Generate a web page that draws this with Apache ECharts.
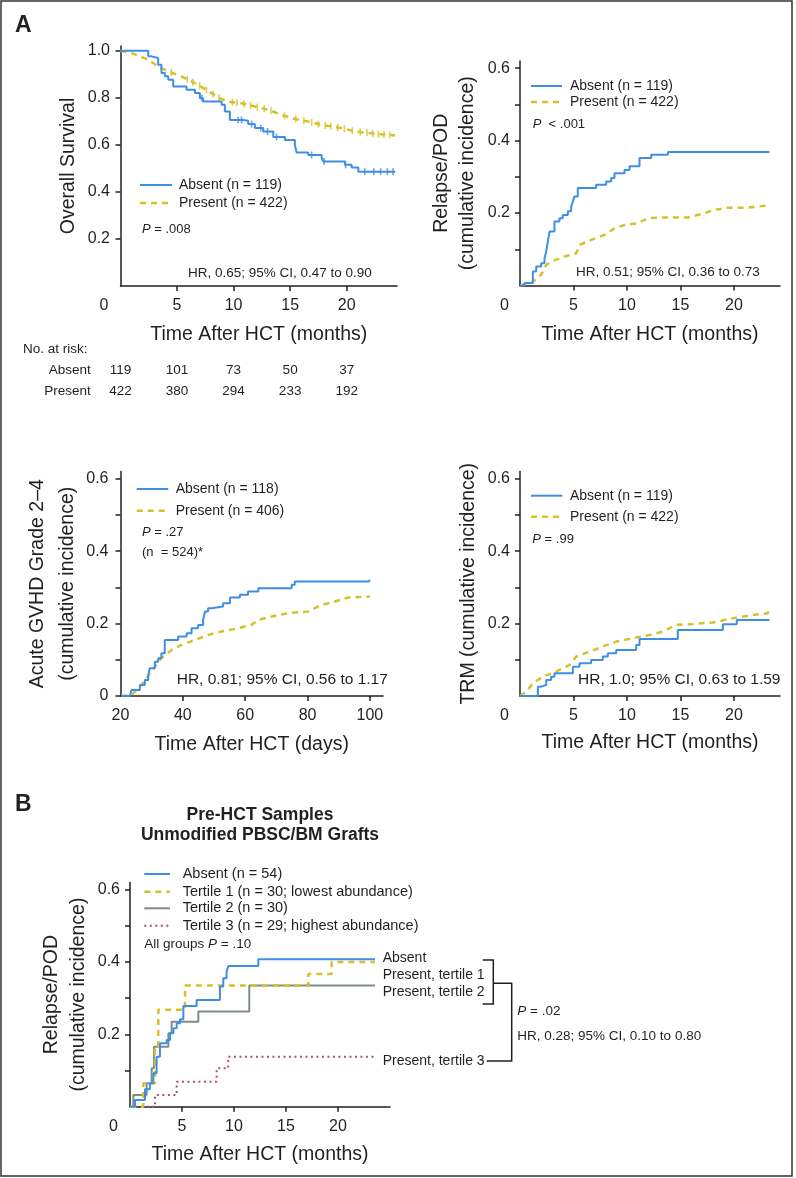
<!DOCTYPE html>
<html>
<head>
<meta charset="utf-8">
<script src="https://cdn.jsdelivr.net/npm/echarts@6.0.0/dist/echarts.min.js"></script>
<style>
  html, body { margin: 0; padding: 0; background: #fff; }
  #chart { width: 796px; height: 1178px; }
</style>
</head>
<body>
<div id="chart"></div>
<script>
const BLUE = '#3f8ee6', YELLOW = '#d6c12a', GRAY = '#7f8b8d', RED = '#a3566a', INK = '#231f20'
const FONT = '"Liberation Sans", Arial, Helvetica, sans-serif'

// ---- A: overall survival (months) ----
const osAbsent = [[0,1],[2.45,0.976],[2.74,0.969],[3.33,0.94],[3.62,0.905],[3.92,0.891],[4.22,0.877],[4.66,0.848],[5.84,0.834],[6.58,0.82],[7.02,0.798],[7.31,0.784],[8.94,0.77],[9.23,0.742],[9.67,0.706],[10.85,0.702],[11.29,0.688],[11.88,0.671],[12.62,0.657],[13.51,0.633],[14.54,0.621],[15.42,0.6],[15.57,0.567],[16.6,0.557],[17.79,0.543],[17.94,0.529],[19.85,0.515],[20.44,0.504],[21.03,0.486],[24.28,0.486]]
const osPresent = [[0,1],[0.97,0.99],[2.45,0.962],[3.33,0.933],[4.22,0.912],[5.39,0.891],[6.87,0.855],[8.05,0.82],[8.94,0.794],[9.53,0.784],[10.7,0.777],[11.88,0.763],[13.06,0.749],[14.25,0.728],[15.13,0.713],[16.6,0.699],[17.79,0.685],[19.55,0.671],[20.74,0.657],[22.5,0.647],[24.28,0.64]]
const osAbsentCensor = [7.2, 10.4, 10.7, 11.6, 12.4, 13.0, 13.8, 16.9, 18.0, 19.9, 21.6, 22.4, 23.0, 23.6, 24.1]
const osPresentCensor = [4.5, 5.9, 6.4, 7.0, 7.6, 8.2, 8.7, 9.9, 10.3, 10.9, 11.5, 12.1, 12.7, 13.3, 14.5, 15.5, 16.2, 16.9, 17.5, 18.1, 18.6, 19.2, 19.8, 20.5, 21.2, 21.8, 22.3, 22.8, 23.3, 23.8]

// ---- A: relapse / POD (months) ----
const relAbsent = [[0,0],[0.42,0.0066],[1.2,0.0387],[1.51,0.0525],[1.98,0.0617],[2.29,0.0755],[2.45,0.094],[2.6,0.1215],[2.76,0.149],[3.22,0.177],[3.69,0.186],[4.0,0.195],[4.47,0.205],[4.78,0.218],[4.94,0.232],[5.09,0.246],[5.4,0.269],[7.12,0.278],[8.05,0.287],[8.52,0.297],[8.83,0.31],[9.77,0.319],[10.23,0.329],[11.17,0.352],[12.26,0.361],[13.82,0.369],[23.32,0.369]]
const relPresent = [[0,0],[1.04,0.0066],[1.98,0.0296],[2.45,0.057],[2.91,0.066],[4.16,0.08],[5.25,0.089],[5.56,0.112],[6.65,0.126],[7.9,0.14],[8.83,0.158],[9.77,0.167],[11.01,0.172],[11.95,0.186],[13.19,0.188],[15.69,0.188],[16.93,0.197],[18.18,0.209],[19.42,0.215],[21.3,0.215],[23.16,0.221]]

// ---- A: acute GVHD grade 2-4 (days) ----
const gvhdAbsent = [[20.3,0],[23,0],[23.5,0.0166],[26.2,0.0304],[27.8,0.0443],[28.9,0.058],[29.4,0.0764],[31,0.0949],[32.1,0.1041],[33.1,0.1179],[34.2,0.1549],[38.5,0.1641],[41.2,0.1733],[42.8,0.1871],[44.9,0.1964],[46.5,0.2102],[47.1,0.2333],[48.1,0.2425],[49.2,0.2471],[52.9,0.2563],[55.1,0.272],[58.3,0.2794],[60.9,0.2886],[64.2,0.2978],[74.9,0.307],[75.9,0.3162],[99.6,0.3162],[100,0.3208]]
const gvhdPresent = [[20.3,0],[23.5,0.0018],[26.7,0.0304],[29.9,0.0673],[33.1,0.1041],[36.4,0.1272],[39.6,0.141],[43.9,0.1549],[48.1,0.1687],[52.4,0.1779],[57.7,0.1871],[62,0.1964],[64.2,0.2102],[68.5,0.2195],[73.8,0.2287],[80.2,0.2333],[84.5,0.2517],[88.8,0.2609],[93,0.272],[100,0.2748]]

// ---- A: TRM (months) ----
const trmAbsent = [[0,0],[1.67,0.0258],[1.98,0.0304],[2.45,0.0443],[2.91,0.0535],[3.22,0.0627],[4.94,0.0811],[5.56,0.0904],[6.65,0.0996],[7.74,0.1088],[8.21,0.118],[8.99,0.1272],[10.86,0.141],[11.17,0.1577],[14.75,0.1826],[18.96,0.1982],[20.26,0.2102],[23.32,0.2102]]
const trmPresent = [[0,0],[0.58,0.012],[1.2,0.035],[2.14,0.0535],[3.38,0.0673],[4.63,0.0857],[5.25,0.1088],[6.5,0.1226],[7.74,0.1364],[8.99,0.1503],[10.55,0.1595],[12.1,0.1687],[13.35,0.1779],[14.6,0.1964],[16.15,0.1991],[18.02,0.2028],[19.89,0.2148],[21.76,0.224],[23.16,0.2287],[23.32,0.2425]]

// ---- B: relapse by tertile (months) ----
const bAbsent = [[0,0],[0.48,0.0185],[1.44,0.048],[1.92,0.0646],[2.24,0.0923],[2.56,0.1384],[2.88,0.1753],[3.53,0.1845],[3.85,0.203],[4.17,0.2168],[4.49,0.2306],[4.81,0.2417],[5.13,0.2786],[6.41,0.2952],[8.65,0.3321],[8.97,0.3551],[9.29,0.3736],[9.46,0.3892],[12.34,0.4077],[23.56,0.4077]]
const bTertile1 = [[0,0],[1.28,0.0646],[2.4,0.166],[2.72,0.268],[5.29,0.335],[17.15,0.367],[19.39,0.4],[23.56,0.4]]
const bTertile2 = [[0,0],[0.32,0.0323],[1.6,0.0646],[2.08,0.1061],[2.3,0.166],[3.69,0.203],[4.0,0.2352],[6.57,0.263],[11.47,0.335],[23.56,0.335]]
const bTertile3 = [[0,0],[2.4,0.0323],[4.49,0.0692],[8.33,0.1061],[9.44,0.1384],[23.56,0.1384]]

// ---- number at risk ----
const riskTimes = [0, 5, 10, 15, 20]
const riskAbsent = [119, 101, 73, 50, 37]
const riskPresent = [422, 380, 294, 233, 192]

// axis tick / label values
const monthTicks = [5, 10, 15, 20]
const monthLabels = [0, 5, 10, 15, 20]
const dayTicks = [40, 60, 80, 100]
const dayLabels = [20, 40, 60, 80, 100]
const osTicks = [0.2, 0.4, 0.6, 0.8, 1.0]
const ciTicks = [0.1, 0.2, 0.3, 0.4, 0.5, 0.6]
const ciLabels = [0.2, 0.4, 0.6]

const stepAt = (curve, t) => { let v = curve[0][1]; for (const p of curve) if (p[0] <= t) v = p[1]; return v }
const lineAt = (curve, t) => {
  for (let i = 1; i < curve.length; i++) {
    const a = curve[i - 1], b = curve[i]
    if (t <= b[0]) return a[1] + (b[1] - a[1]) * (t - a[0]) / (b[0] - a[0])
  }
  return curve[curve.length - 1][1]
}

const chart = echarts.init(document.getElementById('chart'))

function xAx(gi, min, max, labels, ticks, name, gap, zeroPad) {
  return {
    type: 'value', gridIndex: gi, min, max,
    name, nameLocation: 'middle', nameGap: gap,
    nameTextStyle: { fontSize: 19.5, fontFamily: FONT, color: INK, lineHeight: 22 },
    axisLine: { onZero: false, lineStyle: { color: INK, width: 1.5 } },
    axisTick: { length: 5, lineStyle: { color: INK, width: 1.5 }, customValues: ticks },
    axisLabel: {
      customValues: labels, margin: 12, fontSize: 16, fontFamily: FONT, color: INK,
      formatter: v => (v === 0 && zeroPad ? '{z|0}' : String(v)),
      rich: { z: { fontSize: 16, fontFamily: FONT, color: INK, padding: [0, zeroPad || 0, 0, 0] } }
    },
    splitLine: { show: false }
  }
}

function yAx(gi, max, labels, ticks, name, gap, lh, margin) {
  return {
    type: 'value', gridIndex: gi, min: 0, max,
    name, nameLocation: 'middle', nameGap: gap,
    nameTextStyle: { fontSize: 19.5, fontFamily: FONT, color: INK, lineHeight: lh },
    axisLine: { onZero: false, lineStyle: { color: INK, width: 1.5 } },
    axisTick: { length: 5, lineStyle: { color: INK, width: 1.5 }, customValues: ticks },
    axisLabel: {
      customValues: labels, margin, fontSize: 16, fontFamily: FONT, color: INK,
      formatter: v => (v === 0 ? '0' : v.toFixed(1))
    },
    splitLine: { show: false }
  }
}

function curve(gi, data, color, width, dash, step) {
  return {
    type: 'line', xAxisIndex: gi, yAxisIndex: gi, data,
    step: step ? 'end' : false, symbol: 'none', silent: true, animation: false,
    lineStyle: { color, width, type: dash || 'solid', cap: 'butt' }
  }
}

function censor(gi, pts, color) {
  return {
    type: 'scatter', xAxisIndex: gi, yAxisIndex: gi, data: pts,
    symbol: 'rect', symbolSize: [1.6, 7], silent: true, animation: false,
    itemStyle: { color }
  }
}

const DASH = [6, 5]
const DOT = [2, 3.5]

chart.setOption({
  animation: false,
  grid: [
    { left: 120.5, top: 46, width: 276.5, height: 240 },
    { left: 520, top: 61, width: 260, height: 224.5 },
    { left: 120.5, top: 471.5, width: 262.5, height: 224.5 },
    { left: 520, top: 471.5, width: 260, height: 224.5 },
    { left: 130, top: 882.5, width: 260, height: 224.2 }
  ],
  xAxis: [
    xAx(0, 0, 24.45, monthLabels, monthTicks, 'Time After HCT (months)', 38, 33),
    xAx(1, 0, 24.3, monthLabels, monthTicks, 'Time After HCT (months)', 38, 31),
    xAx(2, 20, 104.2, dayLabels, dayTicks, 'Time After HCT (days)', 38, 0),
    xAx(3, 0, 24.3, monthLabels, monthTicks, 'Time After HCT (months)', 36, 31),
    xAx(4, 0, 25, monthLabels, monthTicks, 'Time After HCT (months)', 37, 33)
  ],
  yAxis: [
    yAx(0, 1.02, osTicks, osTicks, 'Overall Survival', 41, 22, 10.5),
    yAx(1, 0.62, ciLabels, ciTicks, 'Relapse/POD\n(cumulative incidence)', 39, 26, 10),
    yAx(2, 0.62, [0].concat(ciLabels), [0].concat(ciTicks), 'Acute GVHD Grade 2–4\n(cumulative incidence)', 31, 30, 12),
    yAx(3, 0.62, ciLabels, ciTicks, 'TRM (cumulative incidence)', 40, 22, 10),
    yAx(4, 0.62, ciLabels, ciTicks, 'Relapse/POD\n(cumulative incidence)', 38, 27, 10)
  ],
  series: [
    curve(0, osPresent, YELLOW, 2.5, DASH, false),
    curve(0, osAbsent, BLUE, 2, null, true),
    censor(0, osPresentCensor.map(t => [t, lineAt(osPresent, t)]), YELLOW),
    censor(0, osAbsentCensor.map(t => [t, stepAt(osAbsent, t)]), BLUE),
    curve(1, relPresent, YELLOW, 2.5, DASH, false),
    curve(1, relAbsent, BLUE, 2, null, true),
    curve(2, gvhdPresent, YELLOW, 2.5, DASH, false),
    curve(2, gvhdAbsent, BLUE, 2, null, true),
    curve(3, trmPresent, YELLOW, 2.5, DASH, false),
    curve(3, trmAbsent, BLUE, 2, null, true),
    curve(4, bTertile3, RED, 2, DOT, true),
    curve(4, bTertile2, GRAY, 2, null, true),
    curve(4, bTertile1, YELLOW, 2.5, DASH, true),
    curve(4, bAbsent, BLUE, 2, null, true)
  ]
})

// ---- annotations ----
function txt(x, y, text, size, opt) {
  opt = opt || {}
  return {
    type: 'text', x, y, silent: true,
    style: {
      text, fill: INK, fontSize: size, fontFamily: FONT,
      fontWeight: opt.bold ? 'bold' : 'normal',
      align: opt.align || 'left', verticalAlign: 'middle'
    }
  }
}
function ptxt(x, y, before, after, size) {
  const base = { fontSize: size, fontFamily: FONT, fill: INK }
  return {
    type: 'text', x, y, silent: true,
    style: {
      text: (before ? '{n|' + before + '}' : '') + '{i|P}{n|' + after + '}',
      verticalAlign: 'middle', align: 'left',
      rich: { n: base, i: Object.assign({ fontStyle: 'italic' }, base) }
    }
  }
}
function seg(x1, x2, y, color, width, dash) {
  return {
    type: 'line', silent: true,
    shape: { x1, y1: y, x2, y2: y },
    style: { stroke: color, lineWidth: width, lineDash: dash || null }
  }
}
function poly(points) {
  return { type: 'polyline', silent: true, shape: { points }, style: { stroke: INK, lineWidth: 1.5, fill: null } }
}

const g = []
g.push({ type: 'rect', silent: true, shape: { x: 1, y: 1, width: 791, height: 1175 }, style: { fill: null, stroke: '#333', lineWidth: 1.5 } })
g.push(txt(15, 26, 'A', 23, { bold: true }), txt(15, 805, 'B', 23, { bold: true }))

// A1 overall survival
g.push(seg(140, 172, 185, BLUE, 2), txt(179, 185, 'Absent (n = 119)', 14))
g.push(seg(140, 172, 203, YELLOW, 2.5, DASH), txt(179, 203, 'Present (n = 422)', 14))
g.push(ptxt(142, 229, '', ' = .008', 13))
g.push(txt(188, 273, 'HR, 0.65; 95% CI, 0.47 to 0.90', 13.5))

// number at risk
g.push(txt(23, 349, 'No. at risk:', 13.5))
g.push(txt(90.7, 370.7, 'Absent', 13.5, { align: 'right' }), txt(90.7, 391.7, 'Present', 13.5, { align: 'right' }))
riskTimes.forEach((t, i) => {
  const px = chart.convertToPixel({ xAxisIndex: 0 }, t)
  g.push(txt(px, 370.7, String(riskAbsent[i]), 13.5, { align: 'center' }))
  g.push(txt(px, 391.7, String(riskPresent[i]), 13.5, { align: 'center' }))
})

// A2 relapse
g.push(seg(531, 562, 86, BLUE, 2), txt(570, 86, 'Absent (n = 119)', 14))
g.push(seg(531, 562, 102, YELLOW, 2.5, DASH), txt(570, 102, 'Present (n = 422)', 14))
g.push(ptxt(532.7, 124, '', '  < .001', 13))
g.push(txt(576, 272.7, 'HR, 0.51; 95% CI, 0.36 to 0.73', 13.5))

// A3 GVHD
g.push(seg(136.7, 168.3, 489, BLUE, 2), txt(175.7, 489, 'Absent (n = 118)', 14))
g.push(seg(136.7, 168.3, 510.7, YELLOW, 2.5, DASH), txt(175.7, 510.7, 'Present (n = 406)', 14))
g.push(ptxt(142, 532, '', ' = .27', 13))
g.push(txt(142, 552, '(n  = 524)*', 13))
g.push(txt(176.7, 680, 'HR, 0.81; 95% CI, 0.56 to 1.17', 15.5))

// A4 TRM
g.push(seg(531, 562.3, 495.7, BLUE, 2), txt(570, 495.7, 'Absent (n = 119)', 14))
g.push(seg(531, 562.3, 516.7, YELLOW, 2.5, DASH), txt(570, 516.7, 'Present (n = 422)', 14))
g.push(ptxt(532.3, 539, '', ' = .99', 13))
g.push(txt(578, 680, 'HR, 1.0; 95% CI, 0.63 to 1.59', 15.5))

// B
g.push(txt(260, 815, 'Pre-HCT Samples', 17.5, { bold: true, align: 'center' }))
g.push(txt(260, 835, 'Unmodified PBSC/BM Grafts', 17.5, { bold: true, align: 'center' }))
g.push(seg(144.3, 170, 874, BLUE, 2), txt(182.7, 874, 'Absent (n = 54)', 14.5))
g.push(seg(144.3, 170, 891.7, YELLOW, 2.5, DASH), txt(182.7, 891.7, 'Tertile 1 (n = 30; lowest abundance)', 14.5))
g.push(seg(144.3, 170, 908.3, GRAY, 2), txt(182.7, 908.3, 'Tertile 2 (n = 30)', 14.5))
g.push(seg(144.3, 170, 925.7, RED, 2, DOT), txt(182.7, 925.7, 'Tertile 3 (n = 29; highest abundance)', 14.5))
g.push(ptxt(144.3, 944, 'All groups ', ' = .10', 13.5))
g.push(txt(382.7, 958.3, 'Absent', 14), txt(382.7, 975, 'Present, tertile 1', 14))
g.push(txt(382.7, 991.7, 'Present, tertile 2', 14), txt(382.7, 1060.7, 'Present, tertile 3', 14))
g.push(poly([[482.7, 960], [493.3, 960], [493.3, 1004], [482.7, 1004]]))
g.push(poly([[493.3, 983.3], [511.7, 983.3], [511.7, 1061], [486.7, 1061]]))
g.push(ptxt(517.3, 1011.7, '', ' = .02', 13.5))
g.push(txt(517.3, 1036, 'HR, 0.28; 95% CI, 0.10 to 0.80', 13.5))

chart.setOption({ graphic: g })
</script>
</body>
</html>
